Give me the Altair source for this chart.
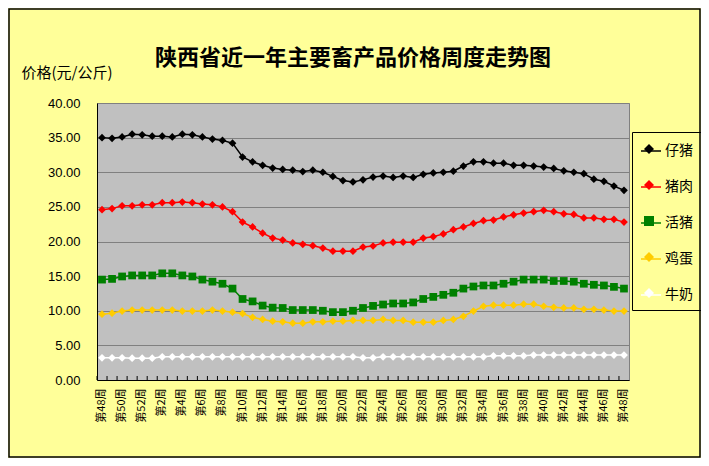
import json
import altair as alt
import pandas as pd

CJK = "Noto Sans CJK SC"

weeks = [48, 49, 50, 51, 52, 1, 2, 3, 4, 5, 6, 7, 8, 9, 10, 11, 12, 13, 14, 15,
         16, 17, 18, 19, 20, 21, 22, 23, 24, 25, 26, 27, 28, 29, 30, 31, 32, 33,
         34, 35, 36, 37, 38, 39, 40, 41, 42, 43, 44, 45, 46, 47, 48]

series_names = ["仔猪", "猪肉", "活猪", "鸡蛋", "牛奶"]
series_keys = ["s0", "s1", "s2", "s3", "s4"]
colors = ["#000000", "#FF0000", "#008000", "#FFCC00", "#FFFFFF"]
shapes = ["diamond", "diamond", "square", "diamond", "diamond"]

piglet = [35.0, 34.9, 35.1, 35.5, 35.4, 35.2, 35.2, 35.1, 35.5, 35.4, 35.1, 34.8, 34.6, 34.2,
          32.2, 31.5, 31.0, 30.6, 30.4, 30.3, 30.1, 30.3, 30.0, 29.4, 28.8, 28.6, 28.9, 29.3,
          29.45, 29.25, 29.45, 29.25, 29.7, 29.9, 30.0, 30.15, 30.9, 31.5, 31.5, 31.3, 31.3,
          31.0, 31.0, 30.9, 30.75, 30.55, 30.2, 30.0, 29.8, 29.0, 28.7, 28.0, 27.4]
pork = [24.6, 24.75, 25.15, 25.15, 25.3, 25.3, 25.6, 25.6, 25.7, 25.6, 25.4, 25.3, 25.0, 24.3,
        22.8, 22.1, 21.2, 20.5, 20.2, 19.8, 19.6, 19.4, 19.05, 18.6, 18.6, 18.6, 19.2, 19.35,
        19.8, 19.9, 19.9, 19.9, 20.5, 20.7, 21.1, 21.7, 22.1, 22.6, 23.0, 23.1, 23.55, 23.85,
        24.1, 24.3, 24.5, 24.3, 24.0, 23.9, 23.4, 23.4, 23.2, 23.2, 22.8]
hog = [14.5, 14.6, 14.95, 15.1, 15.1, 15.1, 15.4, 15.4, 15.1, 14.95, 14.5, 14.2, 13.9, 13.2,
       11.7, 11.35, 10.75, 10.45, 10.4, 10.1, 10.1, 10.1, 10.0, 9.8, 9.8, 10.0, 10.4, 10.7,
       10.9, 11.05, 11.05, 11.2, 11.7, 12.0, 12.3, 12.6, 13.2, 13.5, 13.65, 13.65, 13.9, 14.2,
       14.5, 14.5, 14.5, 14.3, 14.3, 14.2, 13.9, 13.75, 13.65, 13.45, 13.2]
egg = [9.5, 9.65, 9.95, 10.1, 10.1, 10.1, 10.1, 10.1, 9.95, 9.95, 9.95, 10.1, 9.95, 9.8,
       9.6, 9.05, 8.75, 8.5, 8.4, 8.2, 8.2, 8.4, 8.4, 8.5, 8.5, 8.6, 8.6, 8.6,
       8.75, 8.6, 8.6, 8.35, 8.35, 8.35, 8.6, 8.75, 9.2, 9.95, 10.65, 10.8, 10.8, 10.8,
       10.95, 10.95, 10.65, 10.5, 10.4, 10.4, 10.2, 10.2, 10.1, 9.95, 9.95]
milk = [3.2, 3.2, 3.2, 3.15, 3.15, 3.15, 3.35, 3.35, 3.35, 3.35, 3.35, 3.35, 3.35, 3.35,
        3.35, 3.35, 3.35, 3.35, 3.35, 3.35, 3.35, 3.35, 3.35, 3.35, 3.35, 3.35, 3.2, 3.2,
        3.35, 3.35, 3.35, 3.35, 3.35, 3.35, 3.35, 3.35, 3.35, 3.35, 3.35, 3.5, 3.5, 3.5,
        3.5, 3.6, 3.6, 3.6, 3.6, 3.6, 3.6, 3.6, 3.6, 3.6, 3.6]

y_ticks = [0, 5, 10, 15, 20, 25, 30, 35, 40]
title_text = "陕西省近一年主要畜产品价格周度走势图"
y_title = "价格(元/公斤)"

all_values = [piglet, pork, hog, egg, milk]
rows = []
for name, key, vals in zip(series_names, series_keys, all_values):
    for i, v in enumerate(vals):
        rows.append({"idx": i, "series": name, "key": key, "value": v})
df = pd.DataFrame(rows)
idx_df = pd.DataFrame({"idx": list(range(len(weeks)))})

labels = [f"第{w}周" for w in weeks]
label_expr = json.dumps(labels, ensure_ascii=False) + "[datum.value]"

W, H = 532, 277
PAD = {"left": 89, "top": 95, "right": 72, "bottom": 78}


def xenc(band_pos):
    return alt.X(
        "idx:O",
        bandPosition=band_pos,
        scale=alt.Scale(type="band", paddingInner=0, paddingOuter=0),
        axis=alt.Axis(
            values=list(range(0, len(weeks), 2)),
            labelExpr=label_expr,
            labelAngle=270,
            labelAlign="right",
            labelBaseline="middle",
            labelPadding=8,
            labelFont=CJK,
            labelFontSize=11,
            labelColor="black",
            ticks=False,
            grid=False,
            domainColor="black",
            domainWidth=1,
            title=None,
        ),
    )


yenc = alt.Y(
    "value:Q",
    scale=alt.Scale(domain=[0, 40], nice=False),
    axis=alt.Axis(
        values=y_ticks,
        format=".2f",
        labelFont="Liberation Sans",
        labelFontSize=13,
        labelColor="black",
        labelPadding=17,
        ticks=False,
        domainColor="black",
        domainWidth=1,
        gridColor="#808080",
        gridWidth=1,
        title=y_title,
        titleAngle=0,
        titleX=-76,
        titleY=-31,
        titleAlign="left",
        titleBaseline="middle",
        titleFont=CJK,
        titleFontSize=15,
        titleFontWeight="normal",
        titleColor="black",
    ),
)

base = alt.Chart(df)

lines = base.mark_line(strokeWidth=1.5).encode(
    x=xenc(0.5),
    y=yenc,
    stroke=alt.Stroke(
        "series:N",
        scale=alt.Scale(domain=series_names, range=colors),
        legend=alt.Legend(
            orient="none", legendX=535, legendY=29, title=None,
            padding=8, rowPadding=18, symbolType="stroke", symbolSize=400,
            symbolStrokeWidth=1.5, labelFont=CJK, labelFontSize=14,
            labelColor="black", labelOffset=3, strokeColor="black",
        ),
    ),
)

leg2 = alt.Legend(
    orient="none", legendX=535, legendY=29, title=None,
    padding=8, rowPadding=18, symbolOffset=0, symbolStrokeWidth=0,
    labelFontSize=18, labelExpr="''", labelColor="transparent",
)

points = base.mark_point(filled=True, size=60, opacity=1, strokeWidth=0).encode(
    x=xenc(0.5),
    y=yenc,
    fill=alt.Fill("key:N", scale=alt.Scale(domain=series_keys, range=colors), legend=leg2),
    shape=alt.Shape("key:N", scale=alt.Scale(domain=series_keys, range=shapes), legend=leg2),
)

ticks = alt.Chart(idx_df).mark_rule(color="black", strokeWidth=1).encode(
    x=xenc(0),
    y=alt.value(H),
    y2=alt.value(H - 4),
)

border = alt.Chart(pd.DataFrame({"a": [0]})).mark_rect(
    fill="transparent", stroke="black", strokeWidth=1.5
).encode(
    x=alt.value(-PAD["left"] + 1),
    x2=alt.value(W + PAD["right"] - 1),
    y=alt.value(-PAD["top"] + 1),
    y2=alt.value(H + PAD["bottom"] - 1),
)

chart = (
    alt.layer(border, ticks, lines, points)
    .properties(
        width=W,
        height=H,
        autosize=alt.AutoSizeParams(type="none"),
        padding=PAD,
        background="#FFFF99",
        title=alt.Title(
            title_text, font=CJK, fontSize=22, fontWeight="bold", color="black",
            anchor="middle", frame="group", offset=-62, dx=-10,
        ),
    )
    .configure_view(fill="#C0C0C0", stroke="#808080", strokeWidth=1)
)

chart.save("out.html", embed_options={"renderer": "svg", "actions": False})
